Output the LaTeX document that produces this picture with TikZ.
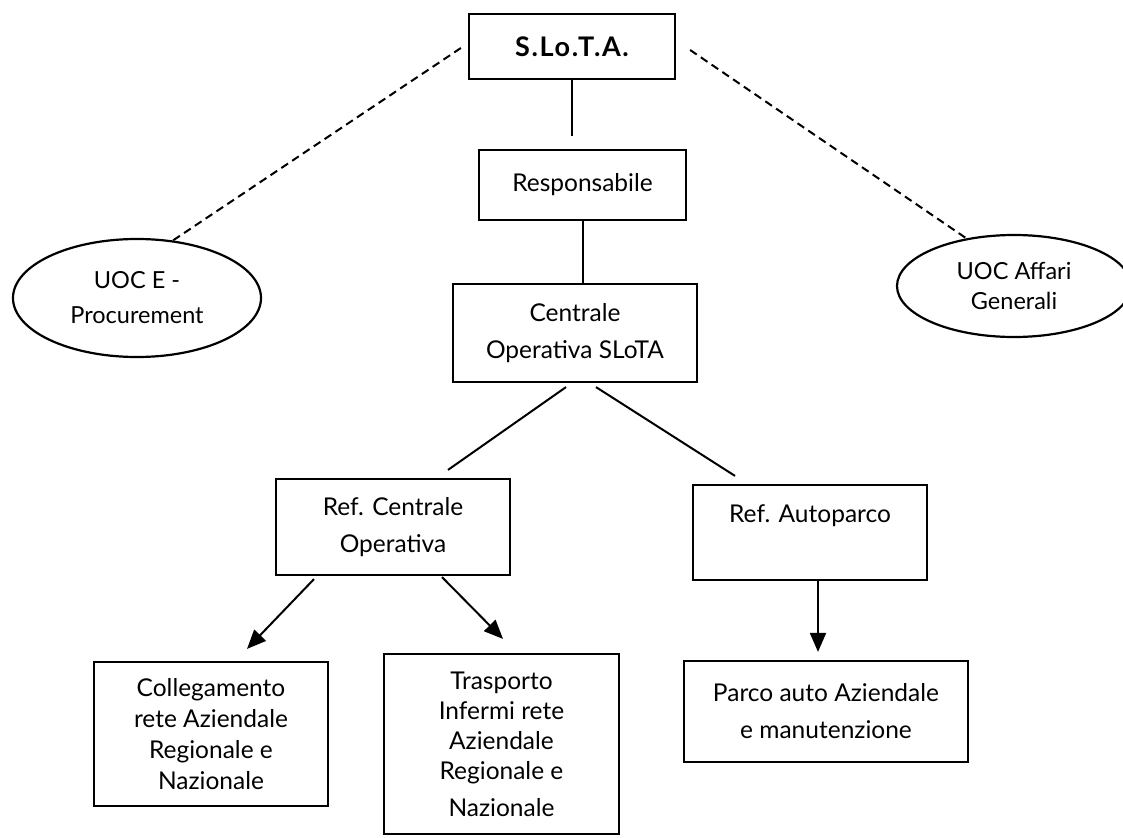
\documentclass[tikz,border=0pt]{standalone}
\usepackage{fontspec}
\setmainfont{Lato}
\usetikzlibrary{arrows.meta,shapes.geometric,calc}
\begin{document}
\begin{tikzpicture}[x=1pt,y=-1pt,
  box/.style={draw, line width=2.2pt, inner sep=0pt, align=center, font=\fontsize{24.5}{37}\selectfont},
  tightbox/.style={box, font=\fontsize{24.5}{31}\selectfont},
  oval/.style={draw, ellipse, line width=2.2pt, inner sep=0pt, align=center, font=\fontsize{23.5}{35}\selectfont},
  conn/.style={line width=2pt},
  arr/.style={line width=2pt, -{Triangle[length=19pt,width=16pt]}},
  dashline/.style={line width=2pt, dash pattern=on 8pt off 5pt}
]
\useasboundingbox (0,0) rectangle (1123,837);

\node[box, minimum width=206, minimum height=65, font=\fontsize{27}{30}\selectfont\bfseries\addfontfeature{LetterSpace=6}] (slota) at (572,46.5) {S.Lo.T.A.};
\node[box, minimum width=207, minimum height=70] (resp) at (582.5,185) {Responsabile};
\node[box, minimum width=244, minimum height=98] (centr) at (575,333) {Centrale\\Operativa SLoTA};
\node[box, minimum width=234, minimum height=96] (refc) at (393,527) {Ref. Centrale\\Operativa};
\node[box, minimum width=234, minimum height=95] (refa) at (810,532.5) {Ref. Autoparco\\[0pt]\mbox{}};
\node[tightbox, minimum width=234, minimum height=144] (coll) at (211,734) {Collegamento\\rete Aziendale\\Regionale e\\Nazionale};
\node[tightbox, minimum width=235, minimum height=180, font=\fontsize{24.5}{30}\selectfont] (trasp) at (501.5,744) {Trasporto\\Infermi rete\\Aziendale\\Regionale e\\[7pt]Nazionale};
\node[box, minimum width=284, minimum height=101] (parco) at (826,711.5) {Parco auto Aziendale\\e manutenzione};

\node[oval, minimum width=248, minimum height=118] (uocE) at (137,298) {UOC E -\\Procurement};
\node[oval, minimum width=234, minimum height=102, font=\fontsize{23.5}{30}\selectfont] (uocA) at (1014,286) {UOC Affari\\Generali};

% solid connectors
\draw[conn, shorten >=13pt] (slota.south) -- (slota.south |- resp.north);
\draw[conn] (resp.south) -- (resp.south |- centr.north);
\draw[conn] ($(centr.south)+(-9,4)$) -- ($(refc.north)+(55,-8)$);
\draw[conn] ($(centr.south)+(21,4)$) -- ($(refa.north)+(-75,-8)$);

% arrows
\draw[arr] ($(refc.south)+(-79,3)$) -- ($(coll.north)+(36,-12)$);
\draw[arr] ($(refc.south)+(49,1)$) -- ($(trasp.north)+(1.5,-14)$);
\draw[arr] ($(refa.south)+(8,0)$) -- ($(parco.north)+(-8,-8)$);

% dashed
\draw[dashline] ($(slota.west)+(-7,1.5)$) -- (uocE.58);
\draw[dashline] ($(slota.east)+(14,3.5)$) -- (uocA.135);
\end{tikzpicture}
\end{document}
